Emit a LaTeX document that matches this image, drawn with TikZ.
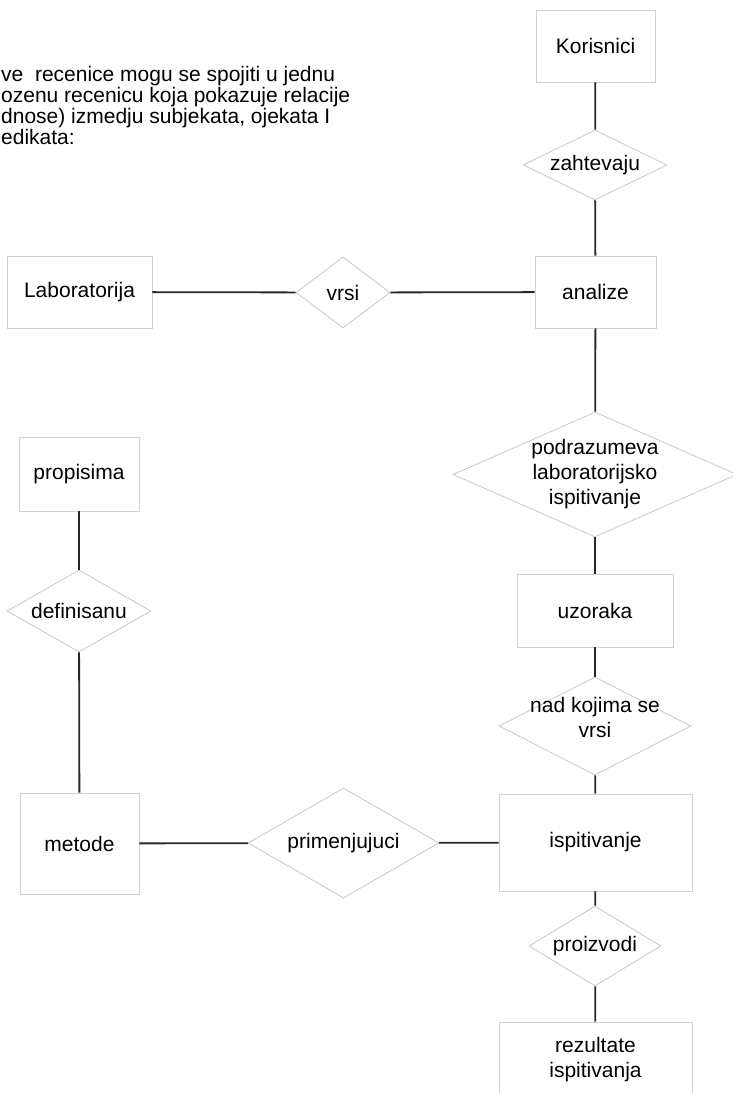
\documentclass[tikz,border=0pt]{standalone}
\usepackage{fontspec}
\setmainfont{Liberation Sans}
\usetikzlibrary{shapes.geometric}
\begin{document}
\begin{tikzpicture}[x=1pt,y=-1pt,
  entity/.style={draw=black!18,line width=0.8pt,rectangle,inner sep=0pt,align=center,font=\fontsize{21}{25}\selectfont},
  relation/.style={draw=black!22,line width=0.8pt,diamond,inner sep=-8pt,align=center,font=\fontsize{21}{25}\selectfont},
  link/.style={draw=black!85,line width=1.8pt}]
 \useasboundingbox (0,0) rectangle (732,1093);
 \node[anchor=north west,align=left,inner sep=0pt,font=\fontsize{21}{21}\selectfont] (uvod) at (1,66)
  {ve\ \ recenice mogu se spojiti u jednu\\ozenu recenicu koja pokazuje relacije\\dnose) izmedju subjekata, ojekata I\\edikata:};
 \node[entity,minimum width=119,minimum height=72] (korisnici) at (595.5,46) {Korisnici};
 \node[relation,aspect=2.06,minimum width=144,minimum height=70] (zahtevaju) at (595,165) {zahtevaju};
 \node[entity,minimum width=145,minimum height=72] (laboratorija) at (79.5,292) {Laboratorija};
 \node[relation,aspect=1.32,minimum width=94,minimum height=71] (vrsi) at (343,292.5) {vrsi};
 \node[entity,minimum width=121,minimum height=72] (analize) at (595.5,292) {analize};
 \node[relation,aspect=2.27,minimum width=284,minimum height=125] (podrazumeva) at (595,474.5) {podrazumeva\\ laboratorijsko\\ispitivanje};
 \node[entity,minimum width=156,minimum height=73] (uzoraka) at (595,610.5) {uzoraka};
 \node[relation,aspect=1.96,inner sep=-14pt,text depth=18pt,minimum width=192,minimum height=98] (nadkojima) at (595,726) {nad kojima se\\vrsi};
 \node[entity,minimum width=120,minimum height=74] (propisima) at (79,474) {propisima};
 \node[relation,aspect=1.76,minimum width=144,minimum height=82] (definisanu) at (79,611) {definisanu};
 \node[entity,minimum width=119,minimum height=101] (metode) at (79.5,843.5) {metode};
 \node[relation,aspect=1.74,minimum width=191,minimum height=110] (primenjujuci) at (343.5,843) {primenjujuci};
 \node[entity,minimum width=193,minimum height=97] (ispitivanje) at (595.5,842.5) {ispitivanje};
 \node[relation,aspect=1.65,minimum width=132,minimum height=80] (proizvodi) at (595,946) {proizvodi};
 \node[entity,minimum width=193,minimum height=76] (rezultate) at (595.5,1060) {rezultate\\ispitivanja};
 \draw[link] (korisnici) -- (zahtevaju);
 \draw[link] (zahtevaju) -- (analize);
 \draw[link] (laboratorija) -- (vrsi);
 \draw[link] (vrsi) -- (analize);
 \draw[link] (analize) -- (podrazumeva);
 \draw[link] (podrazumeva) -- (uzoraka);
 \draw[link] (uzoraka) -- (nadkojima);
 \draw[link] (nadkojima) -- (ispitivanje);
 \draw[link] (propisima) -- (definisanu);
 \draw[link] (definisanu) -- (metode);
 \draw[link] (metode) -- (primenjujuci);
 \draw[link] (primenjujuci) -- (ispitivanje);
 \draw[link] (ispitivanje) -- (proizvodi);
 \draw[link] (proizvodi) -- (rezultate);
\end{tikzpicture}
\end{document}
